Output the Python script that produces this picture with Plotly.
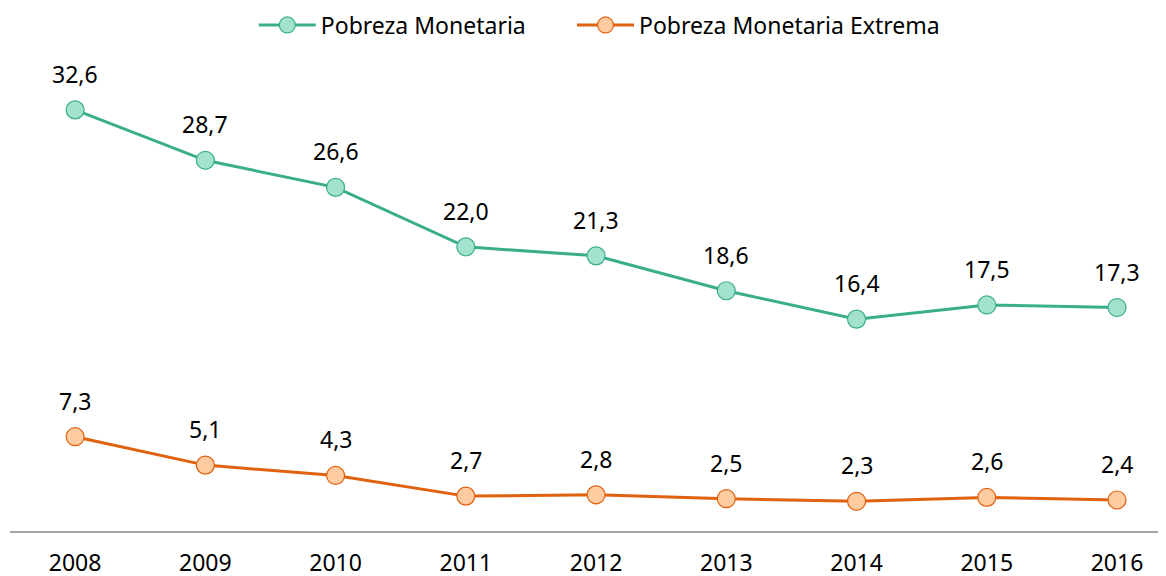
import plotly.graph_objects as go

years = ["2008", "2009", "2010", "2011", "2012", "2013", "2014", "2015", "2016"]
pobreza = [32.6, 28.7, 26.6, 22.0, 21.3, 18.6, 16.4, 17.5, 17.3]
extrema = [7.3, 5.1, 4.3, 2.7, 2.8, 2.5, 2.3, 2.6, 2.4]

FONT = "Noto Sans"
fig = go.Figure()
fig.add_trace(go.Scatter(
    x=years, y=pobreza, mode="lines+markers", name="Pobreza Monetaria",
    line=dict(color="#3AAE8C", width=3),
    marker=dict(size=18, color="#A3E2CE", line=dict(color="#3AAE8C", width=1.2)),
    legend="legend",
))
fig.add_trace(go.Scatter(
    x=years, y=extrema, mode="lines+markers", name="Pobreza Monetaria Extrema",
    line=dict(color="#E0610E", width=3),
    marker=dict(size=18, color="#FFCBA0", line=dict(color="#E0610E", width=1.2)),
    legend="legend2",
))

def fmt(v):
    return f"{v:.1f}".replace(".", ",")

anns = []
for series in (pobreza, extrema):
    for i, v in enumerate(series):
        anns.append(dict(x=i, y=v, xref="x", yref="y", text=fmt(v), showarrow=False, yshift=36,
                         font=dict(size=23, color="#000000", family=FONT)))

leg_common = dict(orientation="h", xanchor="left", y=1.063, yanchor="middle",
                  yref="paper", font=dict(size=23, family=FONT),
                  itemwidth=57, bgcolor="rgba(0,0,0,0)")

fig.update_layout(
    width=1166, height=576,
    margin=dict(l=2, r=14, t=47, b=53, autoexpand=False),
    paper_bgcolor="white", plot_bgcolor="white",
    font=dict(family=FONT, size=23, color="#000000"),
    annotations=anns,
    showlegend=True,
    legend=dict(x=0.212, **leg_common),
    legend2=dict(x=0.4887, **leg_common),
    xaxis=dict(type="category", range=[-0.5, 8.33], showgrid=False,
               showline=True, linecolor="#A6A6A6", linewidth=1.5,
               ticks="", tickfont=dict(size=23, family=FONT), ticklabelstandoff=11),
    yaxis=dict(range=[0, 36.85], visible=False, showgrid=False, zeroline=False),
)
fig.write_html("out.html")
